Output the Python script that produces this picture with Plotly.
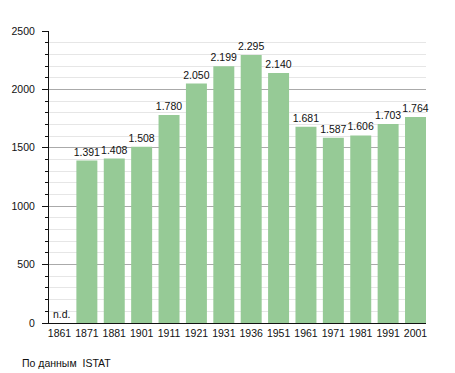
import plotly.graph_objects as go

years = ["1861", "1871", "1881", "1901", "1911", "1921", "1931", "1936",
         "1951", "1961", "1971", "1981", "1991", "2001"]
population = [None, 1391, 1408, 1508, 1780, 2050, 2199, 2295,
              2140, 1681, 1587, 1606, 1703, 1764]
y_ticks = [0, 500, 1000, 1500, 2000, 2500]
source_note = "По данным  ISTAT"
missing_label = "n.d."


def fmt(v):
    return "" if v is None else f"{v:,}".replace(",", ".")


labels = [fmt(v) for v in population]
positions = list(range(len(years)))
FONT = "Liberation Sans, Arial, sans-serif"

# page body has an 8px margin, so the figure is offset by (8, 8)
W, H = 447, 365
L, R, T, B = 41, 29, 23, 50
pw, ph = W - L - R, H - T - B

fig = go.Figure(go.Bar(
    x=positions,
    y=[0 if v is None else v for v in population],
    text=labels,
    textposition="outside",
    constraintext="none",
    textfont=dict(family=FONT, size=10.5, color="#111"),
    marker=dict(color="#96CA96", line=dict(width=0)),
    width=0.766,
    cliponaxis=False,
))

fig.add_annotation(x=0.002, y=0, text=missing_label,
                   xref="paper", yref="paper",
                   xanchor="left", yanchor="bottom", yshift=1, xshift=1,
                   showarrow=False, font=dict(family=FONT, size=10.5, color="#111"))
fig.add_annotation(x=(12 - L) / pw, y=(H - B - 355) / ph, xref="paper", yref="paper",
                   text=source_note, showarrow=False, xanchor="left", yanchor="middle",
                   font=dict(family=FONT, size=10.5, color="#111"))

fig.update_layout(
    width=W, height=H,
    margin=dict(l=L, r=R, t=T, b=B, autoexpand=False),
    plot_bgcolor="white", paper_bgcolor="white",
    showlegend=False,
    font=dict(family=FONT, size=10.5, color="#111"),
    xaxis=dict(
        range=[-0.383, 13.383], autorange=False, automargin=False,
        tickvals=positions, ticktext=years,
        showline=True, linecolor="#111", linewidth=1,
        ticks="", showgrid=False, zeroline=False, tickangle=0,
        tickfont=dict(family=FONT, size=10.5, color="#111"),
        fixedrange=True,
    ),
    yaxis=dict(
        range=[0, 2500], autorange=False, automargin=False,
        tickvals=y_ticks,
        showline=True, linecolor="#111", linewidth=1,
        ticks="outside", ticklen=6, tickcolor="#111", tickwidth=1,
        showgrid=True, gridcolor="#aaaaaa", gridwidth=1,
        zeroline=False,
        minor=dict(dtick=100, showgrid=True, gridcolor="#e6e6e6",
                   ticks="outside", ticklen=3, tickcolor="#111"),
        tickfont=dict(family=FONT, size=10.5, color="#111"),
        ticklabelstandoff=5,
        fixedrange=True,
    ),
)

fig.write_html("out.html")
